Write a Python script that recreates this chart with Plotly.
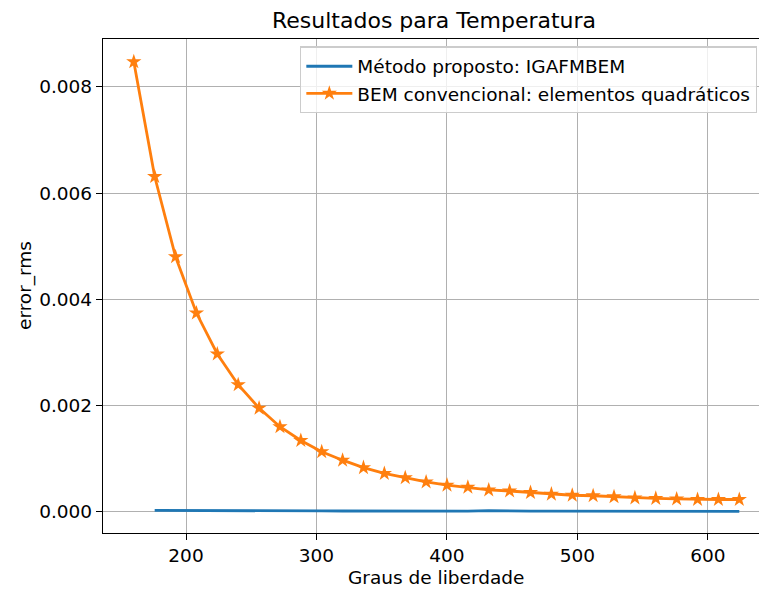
import plotly.graph_objects as go

# Data
dof_bem = [160, 176, 192, 208, 224, 240, 256, 272, 288, 304, 320, 336, 352, 368, 384,
           400, 416, 432, 448, 464, 480, 496, 512, 528, 544, 560, 576, 592, 608, 624]
err_bem = [0.00847, 0.00631, 0.00480, 0.00374, 0.00297, 0.00239, 0.00195, 0.00160,
           0.00134, 0.00113, 0.00097, 0.00083, 0.00072, 0.00064, 0.00056, 0.00050,
           0.00046, 0.00041, 0.00039, 0.00036, 0.00033, 0.00031, 0.00030, 0.00028,
           0.00026, 0.00025, 0.00024, 0.00023, 0.00023, 0.00023]

dof_iga = [176, 192, 208, 224, 240, 256, 272, 288, 304, 320, 336, 352, 368, 384, 400,
           416, 432, 448, 464, 480, 496, 512, 528, 544, 560, 576, 592, 608, 624]
err_iga = [0.000025, 0.000022, 0.000018, 0.000021, 0.000017, 0.000016, 0.000015,
           0.000012, 0.000014, 0.000013, 0.000012, 0.000011, 0.000012, 0.000013,
           0.000011, 0.000009, 0.000022, 0.000012, 0.000010, 0.000009, 0.000008,
           0.000009, 0.000008, 0.000008, 0.000007, 0.000008, 0.000007, 0.000007,
           0.000006]

x_ticks = [200, 300, 400, 500, 600]
y_ticks = [0.0, 0.002, 0.004, 0.006, 0.008]

FONT = "DejaVu Sans"
BLUE = "#1f77b4"
ORANGE = "#ff7f0e"
FS = 18.5

fig = go.Figure()
fig.add_trace(go.Scatter(
    x=dof_iga, y=err_iga, mode="lines", name="Método proposto: IGAFMBEM",
    line=dict(color=BLUE, width=2.8)))
fig.add_trace(go.Scatter(
    x=dof_bem, y=err_bem, mode="lines+markers",
    name="BEM convencional: elementos quadráticos",
    line=dict(color=ORANGE, width=2.8),
    marker=dict(symbol="star", size=11.5, color=ORANGE, line=dict(width=0))))

L, T, B = 103, 39, 56
W, H = 759, 589
pw = W - L
fig.update_layout(
    width=W, height=H,
    margin=dict(l=L, r=0, t=T, b=B, pad=0),
    paper_bgcolor="white", plot_bgcolor="white",
    font=dict(family=FONT, size=FS, color="black"),
    showlegend=True,
    legend=dict(
        x=0.997, xanchor="right", y=0.985, yanchor="top",
        bgcolor="rgba(255,255,255,0.8)", bordercolor="#cccccc", borderwidth=1.3,
        font=dict(family=FONT, size=FS, color="black"),
        tracegroupgap=0, itemwidth=46),
    xaxis=dict(
        range=[136.4, 639.1], tickvals=x_ticks, ticktext=[str(v) for v in x_ticks],
        showgrid=True, gridcolor="#b0b0b0", gridwidth=1.3,
        showline=True, linecolor="black", linewidth=1.4, mirror=True,
        ticks="outside", ticklen=6, tickwidth=1.3, tickcolor="black",
        zeroline=False, tickfont=dict(size=FS)),
    yaxis=dict(
        range=[-0.000401, 0.00890], tickvals=y_ticks,
        ticktext=[f"{v:.3f}" for v in y_ticks],
        showgrid=True, gridcolor="#b0b0b0", gridwidth=1.3,
        showline=True, linecolor="black", linewidth=1.4, mirror=False,
        ticks="outside", ticklen=6, tickwidth=1.3, tickcolor="black",
        zeroline=False, tickfont=dict(size=FS)),
    annotations=[
        dict(text="Resultados para Temperatura", xref="paper", yref="paper",
             x=(434 - L) / pw, y=1, yshift=19, xanchor="center", yanchor="middle",
             showarrow=False, font=dict(family=FONT, size=22, color="black")),
        dict(text="Graus de liberdade", xref="paper", yref="paper",
             x=(436 - L) / pw, y=0, yshift=-(577 - (H - B)), xanchor="center",
             yanchor="middle", showarrow=False,
             font=dict(family=FONT, size=FS, color="black")),
        dict(text="error_rms", xref="paper", yref="paper",
             x=0, xshift=-(L - 25), y=0.5, xanchor="center", yanchor="middle",
             textangle=-90, showarrow=False,
             font=dict(family=FONT, size=FS, color="black")),
    ],
)

fig.write_html("out.html")
